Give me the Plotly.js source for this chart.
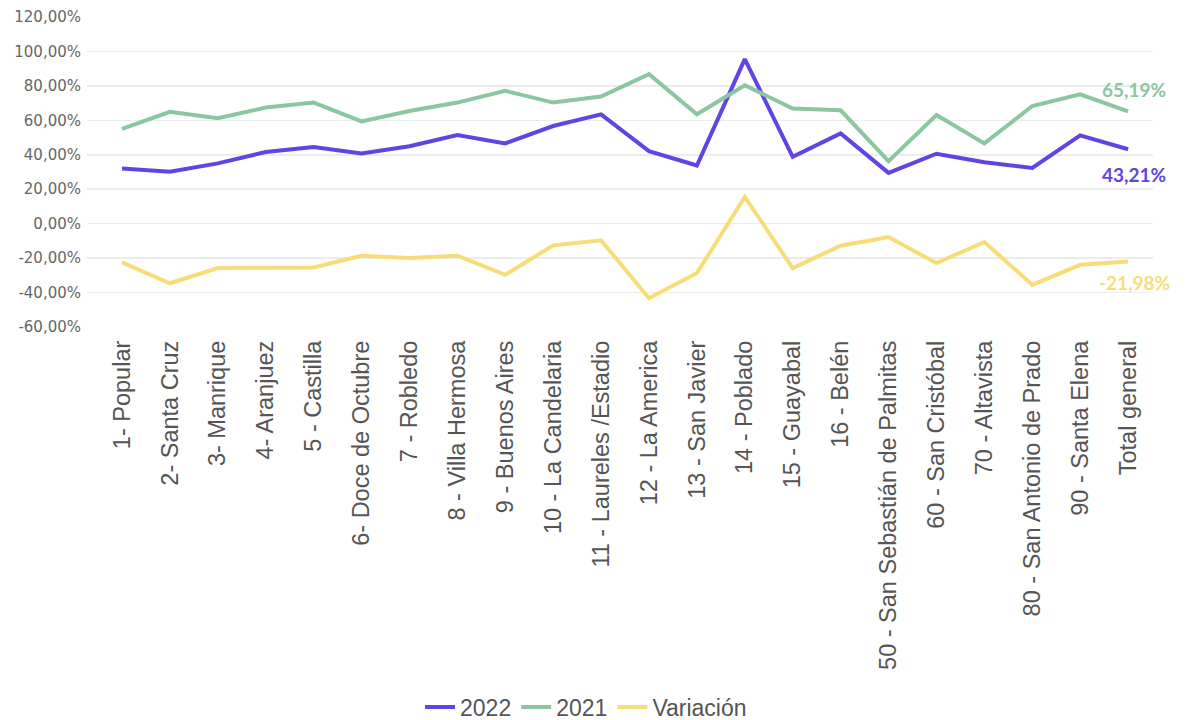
<!DOCTYPE html>
<html>
<head>
<meta charset="utf-8">
<script src="https://cdn.plot.ly/plotly-3.0.1.min.js"></script>
<style>html,body{margin:0;padding:0;background:#fff;}#chart{width:1196px;height:720px;}</style>
</head>
<body>
<div id="chart"></div>
<script>
const categories = [
  "1- Popular", "2- Santa Cruz", "3- Manrique", "4- Aranjuez", "5 - Castilla",
  "6- Doce de Octubre", "7 - Robledo", "8 - Villa Hermosa", "9 - Buenos Aires",
  "10 - La Candelaria", "11 - Laureles /Estadio", "12 - La America", "13 - San Javier",
  "14 - Poblado", "15 - Guayabal", "16 - Belén", "50 - San Sebastián de Palmitas",
  "60 - San Cristóbal", "70 - Altavista", "80 - San Antonio de Prado", "90 - Santa Elena",
  "Total general"
];
const values2022 = [32.0, 30.1, 35.0, 41.6, 44.5, 40.8, 45.0, 51.5, 46.6, 56.7, 63.5, 42.1, 33.8, 95.5, 38.8, 52.4, 29.5, 40.6, 35.7, 32.4, 51.3, 43.21];
const values2021 = [55.1, 64.9, 61.2, 67.4, 70.3, 59.4, 65.4, 70.3, 77.1, 70.3, 73.8, 86.8, 63.5, 80.4, 66.8, 65.8, 36.3, 63.1, 46.6, 68.3, 75.1, 65.19];
const variacion = [-22.5, -34.6, -25.8, -25.4, -25.4, -18.6, -20.0, -18.6, -29.7, -12.6, -9.7, -43.3, -28.7, 15.5, -25.8, -12.8, -7.8, -22.9, -10.7, -35.5, -23.9, -21.98];
const seriesNames = ["2022", "2021", "Variación"];
const yTicks = [-60, -40, -20, 0, 20, 40, 60, 80, 100, 120];

const colors = ["#5F45E3", "#8CC6A0", "#F7DD78"];
const series = [values2022, values2021, variacion];

const traces = series.map((vals, i) => ({
  type: "scatter",
  mode: "lines",
  x: categories,
  y: vals,
  name: seriesNames[i],
  line: {color: colors[i], width: 4},
  hoverinfo: "skip"
}));

const fmt = v => v.toFixed(2).replace(".", ",") + "%";
const last = categories.length - 1;
const shifts = [[6, -25], [6, 22], [6, -21]];
const annotations = series.map((vals, i) => ({
  x: categories[last],
  y: vals[last],
  xref: "x", yref: "y",
  text: "<b>" + fmt(vals[last]) + "</b>",
  showarrow: false,
  xshift: shifts[i][0],
  yshift: shifts[i][1],
  font: {family: "Lato, 'Open Sans', sans-serif", size: 19, color: colors[i]}
}));

const layout = {
  width: 1196,
  height: 720,
  paper_bgcolor: "#ffffff",
  plot_bgcolor: "#ffffff",
  separators: ",.",
  margin: {l: 87, r: 43, t: 17, b: 393},
  showlegend: true,
  legend: {
    orientation: "h",
    xref: "container", yref: "container",
    x: 0.49, xanchor: "center",
    y: 0.018, yanchor: "middle",
    font: {family: "Liberation Sans, Arial, sans-serif", size: 23, color: "#555"},
    tracegroupgap: 0
  },
  xaxis: {
    type: "category",
    range: [-0.73, 21.52],
    tickangle: -90,
    tickfont: {family: "Liberation Sans, Arial, sans-serif", size: 23.5, color: "#555"},
    ticklabelstandoff: 8,
    showgrid: false,
    zeroline: false,
    showline: false,
    ticks: ""
  },
  yaxis: {
    range: [-60, 120],
    tickvals: yTicks,
    ticktext: yTicks.map(v => v.toFixed(2).replace(".", ",") + "%"),
    tickfont: {family: "DejaVu Sans, sans-serif", size: 15, color: "#666"},
    ticklabelstandoff: 5,
    gridcolor: "#ececec",
    gridwidth: 1.5,
    zeroline: false,
    showline: false,
    ticks: ""
  },
  annotations: annotations
};

Plotly.newPlot("chart", traces, layout, {displayModeBar: false, staticPlot: true});
</script>
</body>
</html>
